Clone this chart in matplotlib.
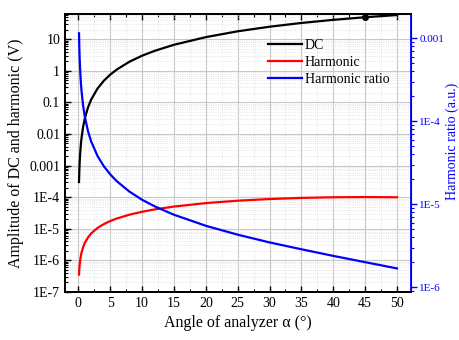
import matplotlib
matplotlib.use("Agg")
import matplotlib.pyplot as plt
from matplotlib import ticker
import numpy as np

# values
angle = [0.1, 0.15, 0.2, 0.3, 0.4, 0.5, 0.75, 1, 1.5, 2, 3, 4, 5, 6, 8, 10,
         12, 15, 20, 25, 30, 35, 40, 45, 50]
dc = [3.0e-4, 6.9e-4, 1.22e-3, 2.74e-3, 4.9e-3, 7.6e-3, 0.0171, 0.0305, 0.0685,
      0.122, 0.274, 0.487, 0.760, 1.09, 1.94, 3.02, 4.32, 6.70, 11.7, 17.9,
      25.0, 32.9, 41.3, 50.0, 58.7]
harmonic = [3.5e-7, 5.2e-7, 7.0e-7, 1.05e-6, 1.4e-6, 1.75e-6, 2.6e-6, 3.5e-6,
            5.2e-6, 7.0e-6, 1.05e-5, 1.39e-5, 1.74e-5, 2.08e-5, 2.76e-5,
            3.42e-5, 4.07e-5, 5.0e-5, 6.43e-5, 7.66e-5, 8.66e-5, 9.40e-5,
            9.85e-5, 1.0e-4, 9.85e-5]
ratio = [1.15e-3, 7.6e-4, 5.73e-4, 3.82e-4, 2.86e-4, 2.29e-4, 1.53e-4, 1.15e-4,
         7.64e-5, 5.73e-5, 3.82e-5, 2.86e-5, 2.29e-5, 1.90e-5, 1.42e-5,
         1.13e-5, 9.4e-6, 7.46e-6, 5.49e-6, 4.29e-6, 3.46e-6, 2.86e-6,
         2.38e-6, 2.0e-6, 1.68e-6]
marker_angle = [45]
marker_dc = [50.0]

left_ticks = [10, 1, 0.1, 0.01, 0.001, 1e-4, 1e-5, 1e-6, 1e-7]
left_labels = ['10', '1', '0.1', '0.01', '0.001', '1E-4', '1E-5', '1E-6', '1E-7']
right_ticks = [1e-3, 1e-4, 1e-5, 1e-6]
right_labels = ['0.001', '1E-4', '1E-5', '1E-6']

plt.rcParams['font.family'] = ['Liberation Serif', 'DejaVu Serif']

fig = plt.figure(figsize=(4.6, 3.4), dpi=100)
ax = fig.add_axes([0.1413, 0.142, 0.7522, 0.816])
ax2 = ax.twinx()

l1, = ax.plot(angle, dc, color='black', lw=1.6, label='DC')
ax.plot(marker_angle, marker_dc, 'o', color='black', ms=4)
l2, = ax.plot(angle, harmonic, color='red', lw=1.6, label='Harmonic')
l3, = ax2.plot(angle, ratio, color='blue', lw=1.6, label='Harmonic ratio')

ax.set_yscale('log')
ax.set_ylim(1e-7, 62)
ax.set_xlim(-2.1, 52.2)
ax.set_yticks(left_ticks)
ax.set_yticklabels(left_labels)
ax.yaxis.set_minor_locator(ticker.LogLocator(base=10, subs=np.arange(2, 10), numticks=20))
ax.yaxis.set_minor_formatter(ticker.NullFormatter())
ax.set_xticks(range(0, 51, 5))
ax.xaxis.set_minor_locator(ticker.MultipleLocator(2.5))

ax.grid(True, which='major', color='#c8c8c8', lw=0.8)
ax.grid(True, which='minor', color='#dcdcdc', lw=0.6, ls=':')
ax.set_axisbelow(True)

ax.tick_params(which='both', direction='in', top=True, labelsize=10)
ax.tick_params(which='major', length=4, width=1)
ax.tick_params(which='minor', length=2, width=0.8)

ax2.set_yscale('log')
ax2.set_ylim(8.8e-7, 1.95e-3)
ax2.set_yticks(right_ticks)
ax2.set_yticklabels(right_labels)
ax2.yaxis.set_minor_locator(ticker.LogLocator(base=10, subs=np.arange(2, 10), numticks=20))
ax2.yaxis.set_minor_formatter(ticker.NullFormatter())
ax2.tick_params(which='both', direction='out', colors='blue', labelsize=8, pad=2)
ax2.tick_params(which='major', length=4, width=1)
ax2.tick_params(which='minor', length=2, width=0.8)

for side in ['left', 'bottom', 'top']:
    ax.spines[side].set_linewidth(1.3)
    ax2.spines[side].set_linewidth(1.3)
ax2.spines['right'].set_color('blue')
ax2.spines['right'].set_linewidth(1.3)

ax.set_xlabel('Angle of analyzer α (°)', fontsize=11.5)
ax.set_ylabel('Amplitude of DC and harmonic (V)', fontsize=11.5)
ax2.set_ylabel('Harmonic ratio (a.u.)', fontsize=10, color='blue')
ax2.yaxis.set_label_coords(1.1, 0.543)

ax2.legend([l1, l2, l3], ['DC', 'Harmonic', 'Harmonic ratio'], loc='upper left',
           bbox_to_anchor=(0.55, 0.955), frameon=False, fontsize=10,
           handlelength=2.45, handletextpad=0.2, labelspacing=0.28)

fig.savefig('out.png', dpi=100)
